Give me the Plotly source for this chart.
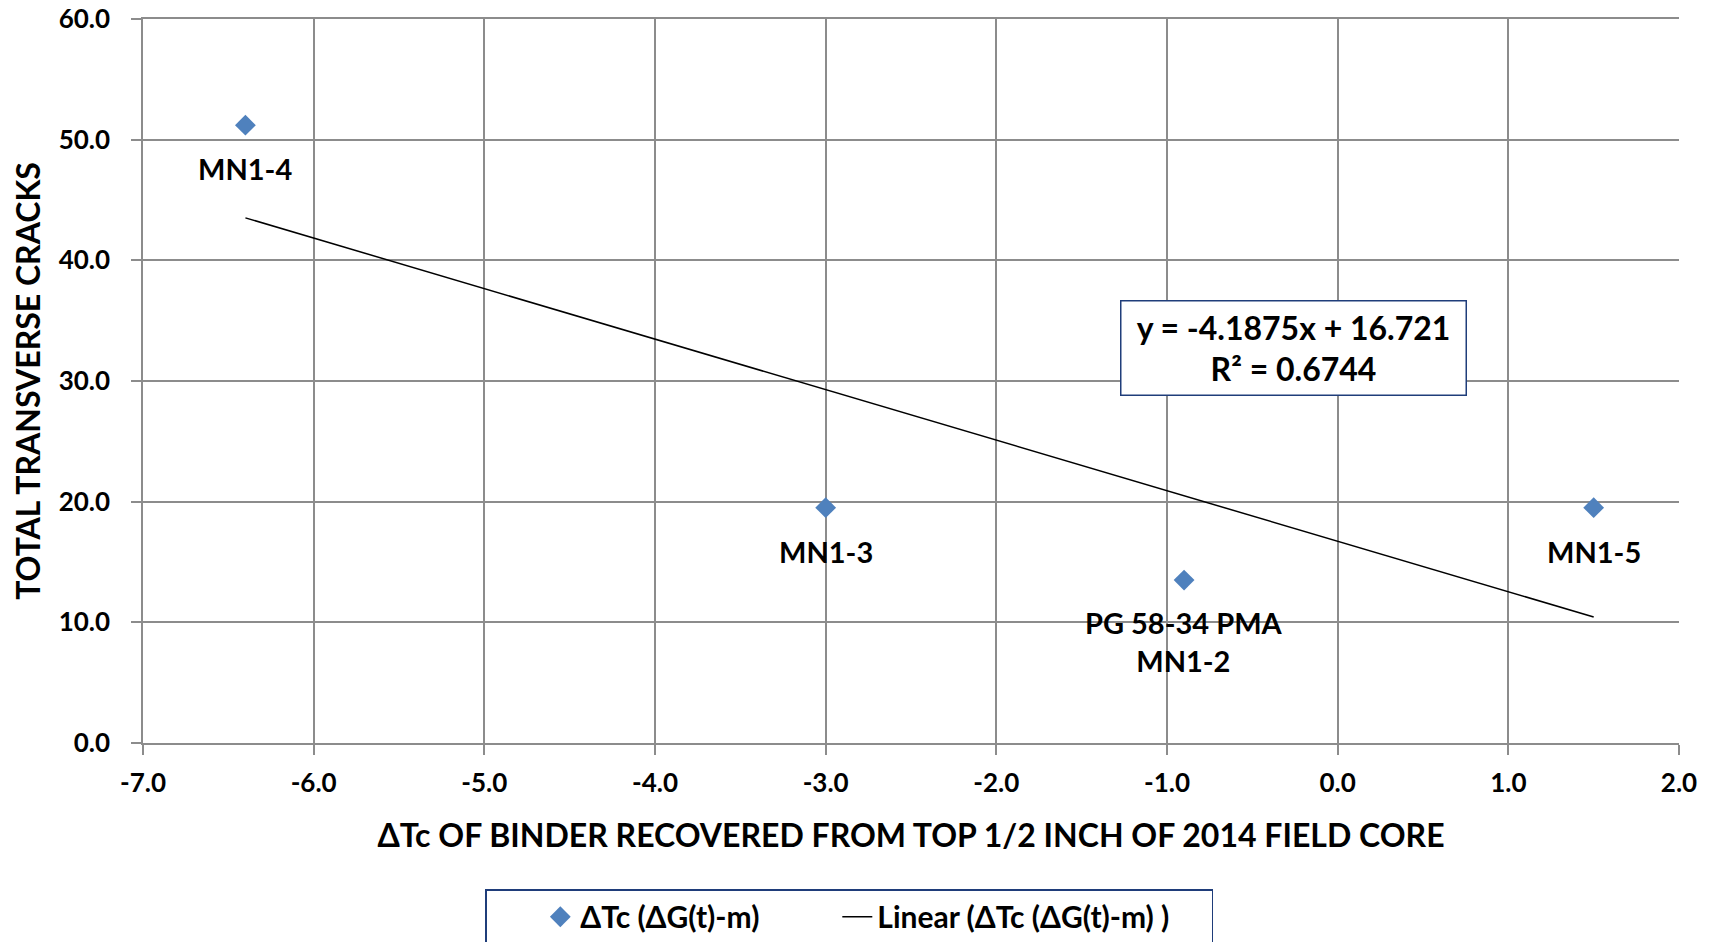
import plotly.graph_objects as go

# Field-core binder data: ΔTc vs. total transverse cracks
delta_tc = [-6.4, -3.0, -0.9, 1.5]
cracks = [51.2, 19.5, 13.5, 19.5]
section_labels = ["MN1-4", "MN1-3", "PG 58-34 PMA<br>MN1-2", "MN1-5"]

# Linear trendline as reported on the chart
slope = -4.1875
intercept = 16.721
r_squared = 0.6744

x_ticks = [-7.0, -6.0, -5.0, -4.0, -3.0, -2.0, -1.0, 0.0, 1.0, 2.0]
y_ticks = [0.0, 10.0, 20.0, 30.0, 40.0, 50.0, 60.0]

FONT = "Lato"
GRID = "#8c8c8c"
NBSP = "\u00a0"

trend_x = [min(delta_tc), max(delta_tc)]
trend_y = [slope * v + intercept for v in trend_x]

fig = go.Figure()
fig.add_trace(go.Scatter(
    x=delta_tc, y=cracks, mode="markers",
    name="ΔTc (ΔG(t)-m)" + NBSP * 10,
    marker=dict(symbol="diamond", size=16, color="#4F81BD"),
))
fig.add_trace(go.Scatter(
    x=trend_x, y=trend_y, mode="lines",
    name="Linear (ΔTc (ΔG(t)-m) )" + NBSP * 5,
    line=dict(color="black", width=1.5),
))

# Point labels below each marker
for x, y, t in zip(delta_tc, cracks, section_labels):
    two_line = "<br>" in t
    fig.add_annotation(
        x=x, y=y, text=t, showarrow=False,
        yanchor="top", yshift=-23 if two_line else -24,
        font=dict(family=FONT, size=29, color="black", weight="bold"),
    )

# Trendline equation box
fig.add_annotation(
    xref="paper", yref="paper", x=0.749, y=0.546,
    xanchor="center", yanchor="middle",
    text=f"y = {slope}x + {intercept}<br>R² = {r_squared}",
    showarrow=False, align="center",
    font=dict(family=FONT, size=32, color="black", weight="bold"),
    bordercolor="#1F3D7A", borderwidth=1.5, borderpad=6,
    bgcolor="white", width=332,
)

axis_common = dict(
    showgrid=True, gridcolor=GRID, gridwidth=1.5,
    showline=True, linecolor=GRID, linewidth=1.5,
    ticks="outside", tickcolor=GRID, ticklen=10, tickwidth=1.5,
    tickfont=dict(family=FONT, size=26, color="black", weight="bold"),
    zeroline=False,
)

fig.update_xaxes(
    range=[-7, 2], tickvals=x_ticks,
    ticktext=[f"{v:.1f}" for v in x_ticks],
    ticklabelstandoff=6,
    title=dict(text="ΔTc OF BINDER RECOVERED FROM TOP 1/2 INCH OF 2014 FIELD CORE",
               font=dict(family=FONT, size=32, color="black", weight="bold"),
               standoff=28),
    mirror=True, **axis_common,
)
fig.update_yaxes(
    range=[0, 60], tickvals=y_ticks,
    ticktext=[f"{v:.1f}" for v in y_ticks],
    ticklabelstandoff=16,
    title=dict(text="TOTAL TRANSVERSE CRACKS",
               font=dict(family=FONT, size=32, color="black", weight="bold"),
               standoff=8),
    **axis_common,
)

fig.update_layout(
    width=1717, height=942,
    margin=dict(l=143, r=38, t=19, b=199, autoexpand=False),
    paper_bgcolor="white", plot_bgcolor="white",
    showlegend=True,
    legend=dict(
        orientation="h", xref="paper", yref="paper",
        x=0.2227, xanchor="left", y=-0.202, yanchor="top",
        bordercolor="#1F3D7A", borderwidth=1.5,
        title=dict(text=NBSP * 6, side="left",
                   font=dict(family=FONT, size=30)),
        font=dict(family=FONT, size=30, color="black", weight="bold"),
    ),
)

fig.write_html("out.html")
